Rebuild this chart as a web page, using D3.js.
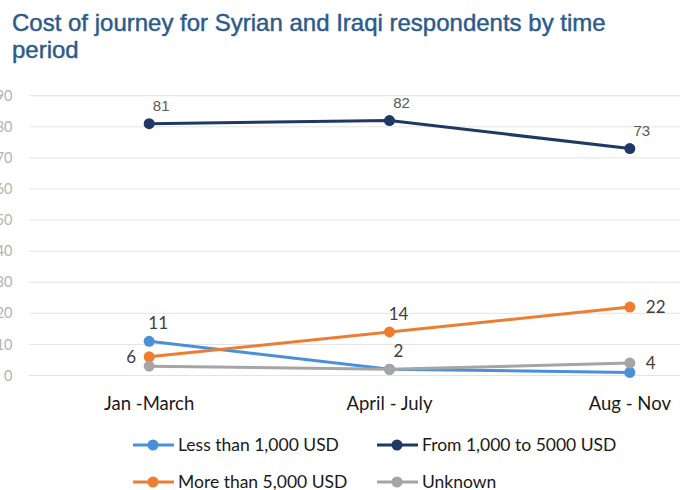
<!DOCTYPE html>
<html>
<head>
<meta charset="utf-8">
<script src="https://cdn.jsdelivr.net/npm/d3@7"></script>
<style>
  html, body { margin: 0; padding: 0; background: #ffffff; }
  svg { display: block; }
</style>
</head>
<body>
<svg id="chart" width="680" height="490"></svg>
<script>
// Share of respondents (%) by journey cost, per time period
const periods = ["Jan -March", "April - July", "Aug - Nov"];
const seriesNames = ["Less than 1,000 USD", "From 1,000 to 5000 USD", "More than 5,000 USD", "Unknown"];
const lessThan1000 = [11, 2, 1];
const from1000to5000 = [81, 82, 73];
const moreThan5000 = [6, 14, 22];
const unknownCost = [3, 2, 4];
const yTicks = [0, 10, 20, 30, 40, 50, 60, 70, 80, 90];

// which points carry a value label, and where it sits
const labelPlacement = {
  "Less than 1,000 USD": ["above", "above", null],
  "From 1,000 to 5000 USD": ["above", "above", "above"],
  "More than 5,000 USD": ["left", "above", "right"],
  "Unknown": [null, null, "right"]
};

const colors = ["#4a90d9", "#1f3864", "#ed7d31", "#a5a5a5"];
const seriesValues = [lessThan1000, from1000to5000, moreThan5000, unknownCost];
const series = seriesNames.map((name, i) => ({ name, values: seriesValues[i], color: colors[i] }));

const svg = d3.select("#chart");
const bodyFont = "Lato, 'Open Sans', sans-serif";

// title, two lines, slightly condensed to span the heading width
const title = svg.append("text")
  .attr("font-family", "'Liberation Sans', Arial, sans-serif")
  .attr("font-size", 24)
  .attr("fill", "#2c5b8b")
  .attr("stroke", "#2c5b8b")
  .attr("stroke-width", 0.45);
title.selectAll("tspan")
  .data(["Cost of journey for Syrian and Iraqi respondents by time", "period"])
  .join("tspan")
  .attr("x", 0)
  .attr("y", (d, i) => i === 0 ? 0 : 27)
  .text(d => d);
const firstLine = title.select("tspan").node().getComputedTextLength();
const sx = Math.min(1, 600 / firstLine);
title.attr("transform", `translate(12,31) scale(${sx},1)`);

const x = d3.scaleBand().domain(periods).range([29, 750]);
const y = d3.scaleLinear().domain([0, 90]).range([375.5, 95.7]);
const cx = d => x(d) + x.bandwidth() / 2;

// horizontal gridlines
svg.append("g")
  .selectAll("line")
  .data(yTicks)
  .join("line")
  .attr("x1", 29).attr("x2", 750)
  .attr("y1", d => y(d)).attr("y2", d => y(d))
  .attr("stroke", "#e3e3e3").attr("stroke-width", 1);

// y axis labels
const yAxis = d3.axisLeft(y).tickValues(yTicks).tickSize(0).tickPadding(0);
const yg = svg.append("g").attr("transform", "translate(12.5,0)").call(yAxis);
yg.select(".domain").remove();
yg.selectAll("text")
  .attr("font-family", bodyFont).attr("font-size", 14.5).attr("fill", "#b3b3b3");

// x axis labels
const xAxis = d3.axisBottom(x).tickSize(0).tickPadding(0);
const xg = svg.append("g").attr("transform", "translate(0,397)").call(xAxis);
xg.select(".domain").remove();
xg.selectAll("text")
  .attr("font-family", bodyFont).attr("font-size", 18.5).attr("fill", "#1a1a1a");

// lines and markers
const line = d3.line().x((d, i) => cx(periods[i])).y(d => y(d));
const sg = svg.append("g").selectAll("g").data(series).join("g");
sg.append("path")
  .attr("d", d => line(d.values))
  .attr("fill", "none")
  .attr("stroke", d => d.color)
  .attr("stroke-width", 3)
  .attr("stroke-linejoin", "round");
sg.selectAll("circle")
  .data(d => d.values.map((v, i) => ({ v, i, color: d.color })))
  .join("circle")
  .attr("cx", d => cx(periods[d.i]))
  .attr("cy", d => y(d.v))
  .attr("r", 5.5)
  .attr("fill", d => d.color);

// value labels
const labels = [];
series.forEach(s => {
  labelPlacement[s.name].forEach((pos, i) => {
    if (pos) labels.push({ v: s.values[i], i, pos, navy: s.name === "From 1,000 to 5000 USD" });
  });
});
svg.append("g").selectAll("text")
  .data(labels)
  .join("text")
  .attr("x", d => cx(periods[d.i]) + (d.pos === "above" ? (d.navy ? 12 : 9) : d.pos === "right" ? 16 : -13))
  .attr("y", d => y(d.v) + (d.pos === "above" ? (d.navy ? -13 : -12) : 6))
  .attr("text-anchor", d => d.pos === "above" ? "middle" : d.pos === "right" ? "start" : "end")
  .attr("font-family", d => d.navy ? "'Liberation Sans', Arial, sans-serif" : bodyFont)
  .attr("font-size", d => d.navy ? 15 : 17)
  .attr("fill", d => d.navy ? "#595959" : "#404040")
  .text(d => d.v);

// legend
const legendPos = [[133, 445], [377, 445], [133, 482], [377, 482]];
const lg = svg.append("g").selectAll("g").data(series).join("g")
  .attr("transform", (d, i) => `translate(${legendPos[i][0]},${legendPos[i][1]})`);
lg.append("line")
  .attr("x1", 0).attr("x2", 41)
  .attr("stroke", d => d.color).attr("stroke-width", 3);
lg.append("circle")
  .attr("cx", 20).attr("r", 5.5)
  .attr("fill", d => d.color);
lg.append("text")
  .attr("x", 45).attr("y", 6)
  .attr("font-family", bodyFont).attr("font-size", 17.5).attr("fill", "#1a1a1a")
  .text(d => d.name);
</script>
</body>
</html>
